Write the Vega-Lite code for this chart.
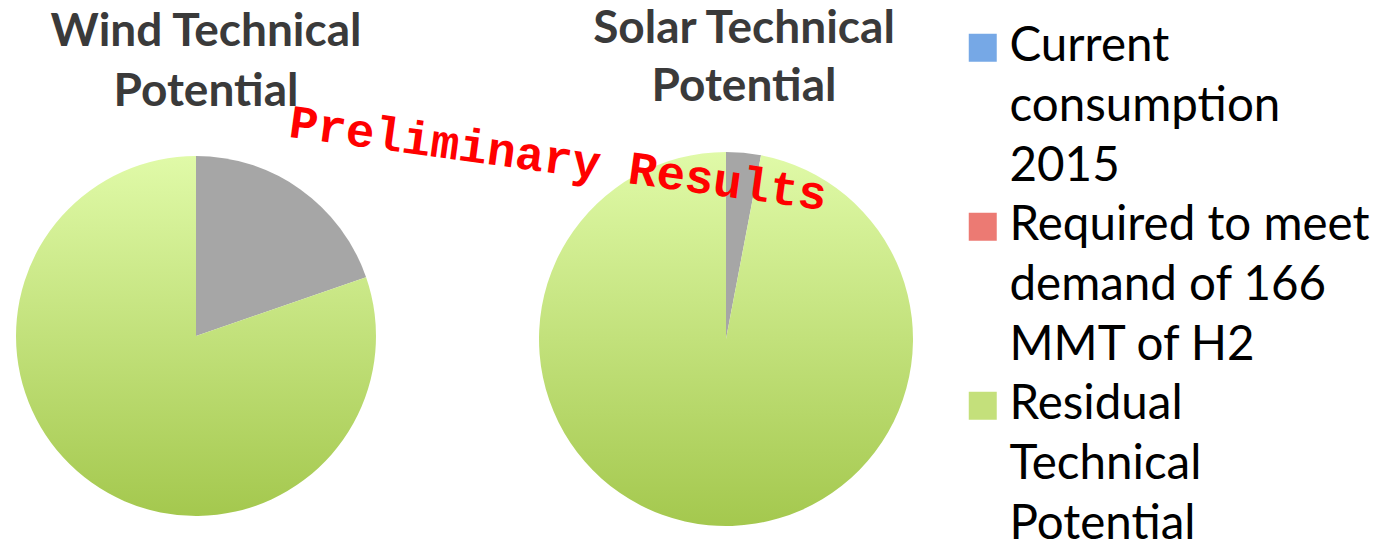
{
  "$schema": "https://vega.github.io/schema/vega-lite/v6.json",
  "background": "white",
  "padding": {"left": 16, "top": 6, "right": 0, "bottom": 0},
  "data": {
    "values": [
      {"source": "Wind", "category": "Current consumption 2015", "value": 0},
      {"source": "Wind", "category": "Required to meet demand of 166 MMT of H2", "value": 19.7},
      {"source": "Wind", "category": "Residual Technical Potential", "value": 80.3},
      {"source": "Solar", "category": "Current consumption 2015", "value": 0},
      {"source": "Solar", "category": "Required to meet demand of 166 MMT of H2", "value": 3.0},
      {"source": "Solar", "category": "Residual Technical Potential", "value": 97.0}
    ]
  },
  "title": {
    "text": "Preliminary Results",
    "anchor": "start",
    "frame": "group",
    "orient": "top",
    "angle": 7.8,
    "dx": 304,
    "dy": 216,
    "baseline": "alphabetic",
    "font": "Liberation Mono",
    "fontSize": 47.5,
    "fontWeight": "bold",
    "color": "#ff0000",
    "lineHeight": 46
  },
  "hconcat": [
    {
      "width": 360,
      "height": 368,
      "title": {"text": ["Wind Technical", "Potential"], "dx": 10, "offset": 36, "lineHeight": 60},
      "transform": [{"filter": "datum.source === 'Wind'"}],
      "mark": {"type": "arc", "outerRadius": 180},
      "encoding": {
        "theta": {"field": "value", "type": "quantitative", "stack": true},
        "order": {"field": "category", "type": "ordinal"},
        "detail": {"field": "category", "type": "nominal"},
        "fill": {
          "condition": {
            "test": "datum.category === 'Residual Technical Potential'",
            "value": {"gradient": "linear", "x1": 0, "y1": 0, "x2": 0, "y2": 1,
              "stops": [{"offset": 0, "color": "#e0faa8"}, {"offset": 1, "color": "#a4c84e"}]}
          },
          "value": "#a6a6a6"
        }
      }
    },
    {
      "width": 374,
      "height": 374,
      "title": {"text": ["Solar Technical", "Potential"], "dx": 18, "offset": 41, "lineHeight": 58},
      "transform": [{"filter": "datum.source === 'Solar'"}],
      "layer": [
        {
          "mark": {"type": "arc"},
          "encoding": {
            "theta": {"field": "value", "type": "quantitative", "stack": true},
            "order": {"field": "category", "type": "ordinal"},
            "detail": {"field": "category", "type": "nominal"},
            "fill": {
              "condition": {
                "test": "datum.category === 'Residual Technical Potential'",
                "value": {"gradient": "linear", "x1": 0, "y1": 0, "x2": 0, "y2": 1,
                  "stops": [{"offset": 0, "color": "#e0faa8"}, {"offset": 1, "color": "#a4c84e"}]}
              },
              "value": "#a6a6a6"
            }
          }
        },
        {
          "mark": {"type": "square", "opacity": 0},
          "encoding": {
            "color": {
              "field": "category",
              "type": "nominal",
              "scale": {
                "domain": ["Current consumption 2015", "Required to meet demand of 166 MMT of H2", "Residual Technical Potential"],
                "range": ["#76a8e6", "#ec7a73", "#c4e07b"]
              },
              "legend": {
                "title": null,
                "orient": "none",
                "legendX": 943,
                "legendY": -128,
                "padding": 0,
                "symbolType": "square",
                "symbolSize": 784,
                "symbolOpacity": 1,
                "symbolStrokeWidth": 0,
                "labelFont": "Lato",
                "labelFontSize": 47.5,
                "labelColor": "#000000",
                "labelLimit": 0,
                "labelOffset": 3,
                "labelBaseline": "top",
                "rowPadding": 10,
                "labelExpr": "datum.label === 'Current consumption 2015' ? ['Current', 'consumption', '2015'] : datum.label === 'Residual Technical Potential' ? ['Residual', 'Technical', 'Potential'] : ['Required to meet', 'demand of 166', 'MMT of H2']",
                "encode": {"labels": {"update": {"lineHeight": {"value": 60}, "dy": {"value": -25}}}}
              }
            }
          }
        }
      ]
    }
  ],
  "spacing": 163,
  "resolve": {"scale": {"theta": "independent"}},
  "config": {
    "view": {"stroke": null},
    "title": {
      "font": "Lato",
      "fontSize": 46,
      "fontWeight": "bold",
      "color": "#3a3a3a",
      "anchor": "middle"
    }
  }
}
